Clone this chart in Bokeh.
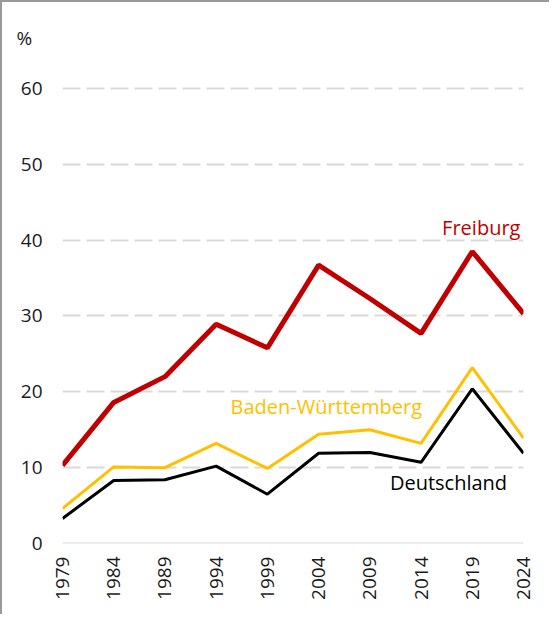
from bokeh.plotting import figure
from bokeh.models import Span, Label, FixedTicker, Range1d, Title
from bokeh.embed import file_html
from bokeh.resources import INLINE
import math

years = [1979, 1984, 1989, 1994, 1999, 2004, 2009, 2014, 2019, 2024]
freiburg = [10.3, 18.6, 22.0, 28.9, 25.8, 36.7, 32.3, 27.7, 38.5, 30.3]
bawue = [4.6, 10.1, 10.0, 13.2, 9.9, 14.4, 15.0, 13.2, 23.2, 13.9]
deutschland = [3.3, 8.3, 8.4, 10.2, 6.5, 11.9, 12.0, 10.7, 20.4, 11.9]
y_ticks = [0, 10, 20, 30, 40, 50, 60]
series_names = ["Freiburg", "Baden-Württemberg", "Deutschland"]
label_x = [2023.7, 2014.1, 2022.4]
label_y = [41.6, 18.1, 8.0]

FONT = "Open Sans"
RED = "#C00000"
YELLOW = "#FFC000"
BLACK = "#000000"
TXT = "#1a1a1a"

p = figure(width=549, height=614, output_backend="svg", toolbar_location=None,
           x_range=Range1d(1979, 2024), y_range=Range1d(0, 65),
           min_border_left=60, min_border_right=28, min_border_top=48, min_border_bottom=73)
p.outline_line_color = None
p.background_fill_color = "white"
p.border_fill_color = "white"

p.xaxis.ticker = FixedTicker(ticks=years)
p.yaxis.ticker = FixedTicker(ticks=y_ticks)
for ax in (p.xaxis[0], p.yaxis[0]):
    ax.axis_line_color = None
    ax.major_tick_line_color = None
    ax.minor_tick_line_color = None
    ax.major_label_text_font = FONT
    ax.major_label_text_font_size = "19px"
    ax.major_label_text_color = TXT
p.xaxis.major_label_orientation = math.pi / 2
p.xaxis.major_label_standoff = 7
p.yaxis.major_label_standoff = 14

p.xgrid.grid_line_color = None
p.ygrid.grid_line_color = "#d9d9d9"
p.ygrid.grid_line_width = 2
p.ygrid.grid_line_dash = "18 6"

p.add_layout(Span(location=0, dimension="width", line_color="#d9d9d9", line_width=2))

p.line(years, deutschland, line_color=BLACK, line_width=3)
p.line(years, bawue, line_color=YELLOW, line_width=3)
p.line(years, freiburg, line_color=RED, line_width=5)

for name, lx, ly, c in zip(series_names, label_x, label_y, [RED, YELLOW, BLACK]):
    p.add_layout(Label(x=lx, y=ly, text=name, text_align="right", text_baseline="middle",
                       text_font=FONT, text_font_size="20px", text_color=c))

p.add_layout(Title(text="%", align="left", offset=-46, standoff=0,
                   text_font=FONT, text_font_size="19px", text_font_style="normal",
                   text_color=TXT), "above")

p.styles = {"border-left": "2px solid #999999", "border-top": "2px solid #999999"}

open("out.html", "w").write(file_html(p, INLINE))
